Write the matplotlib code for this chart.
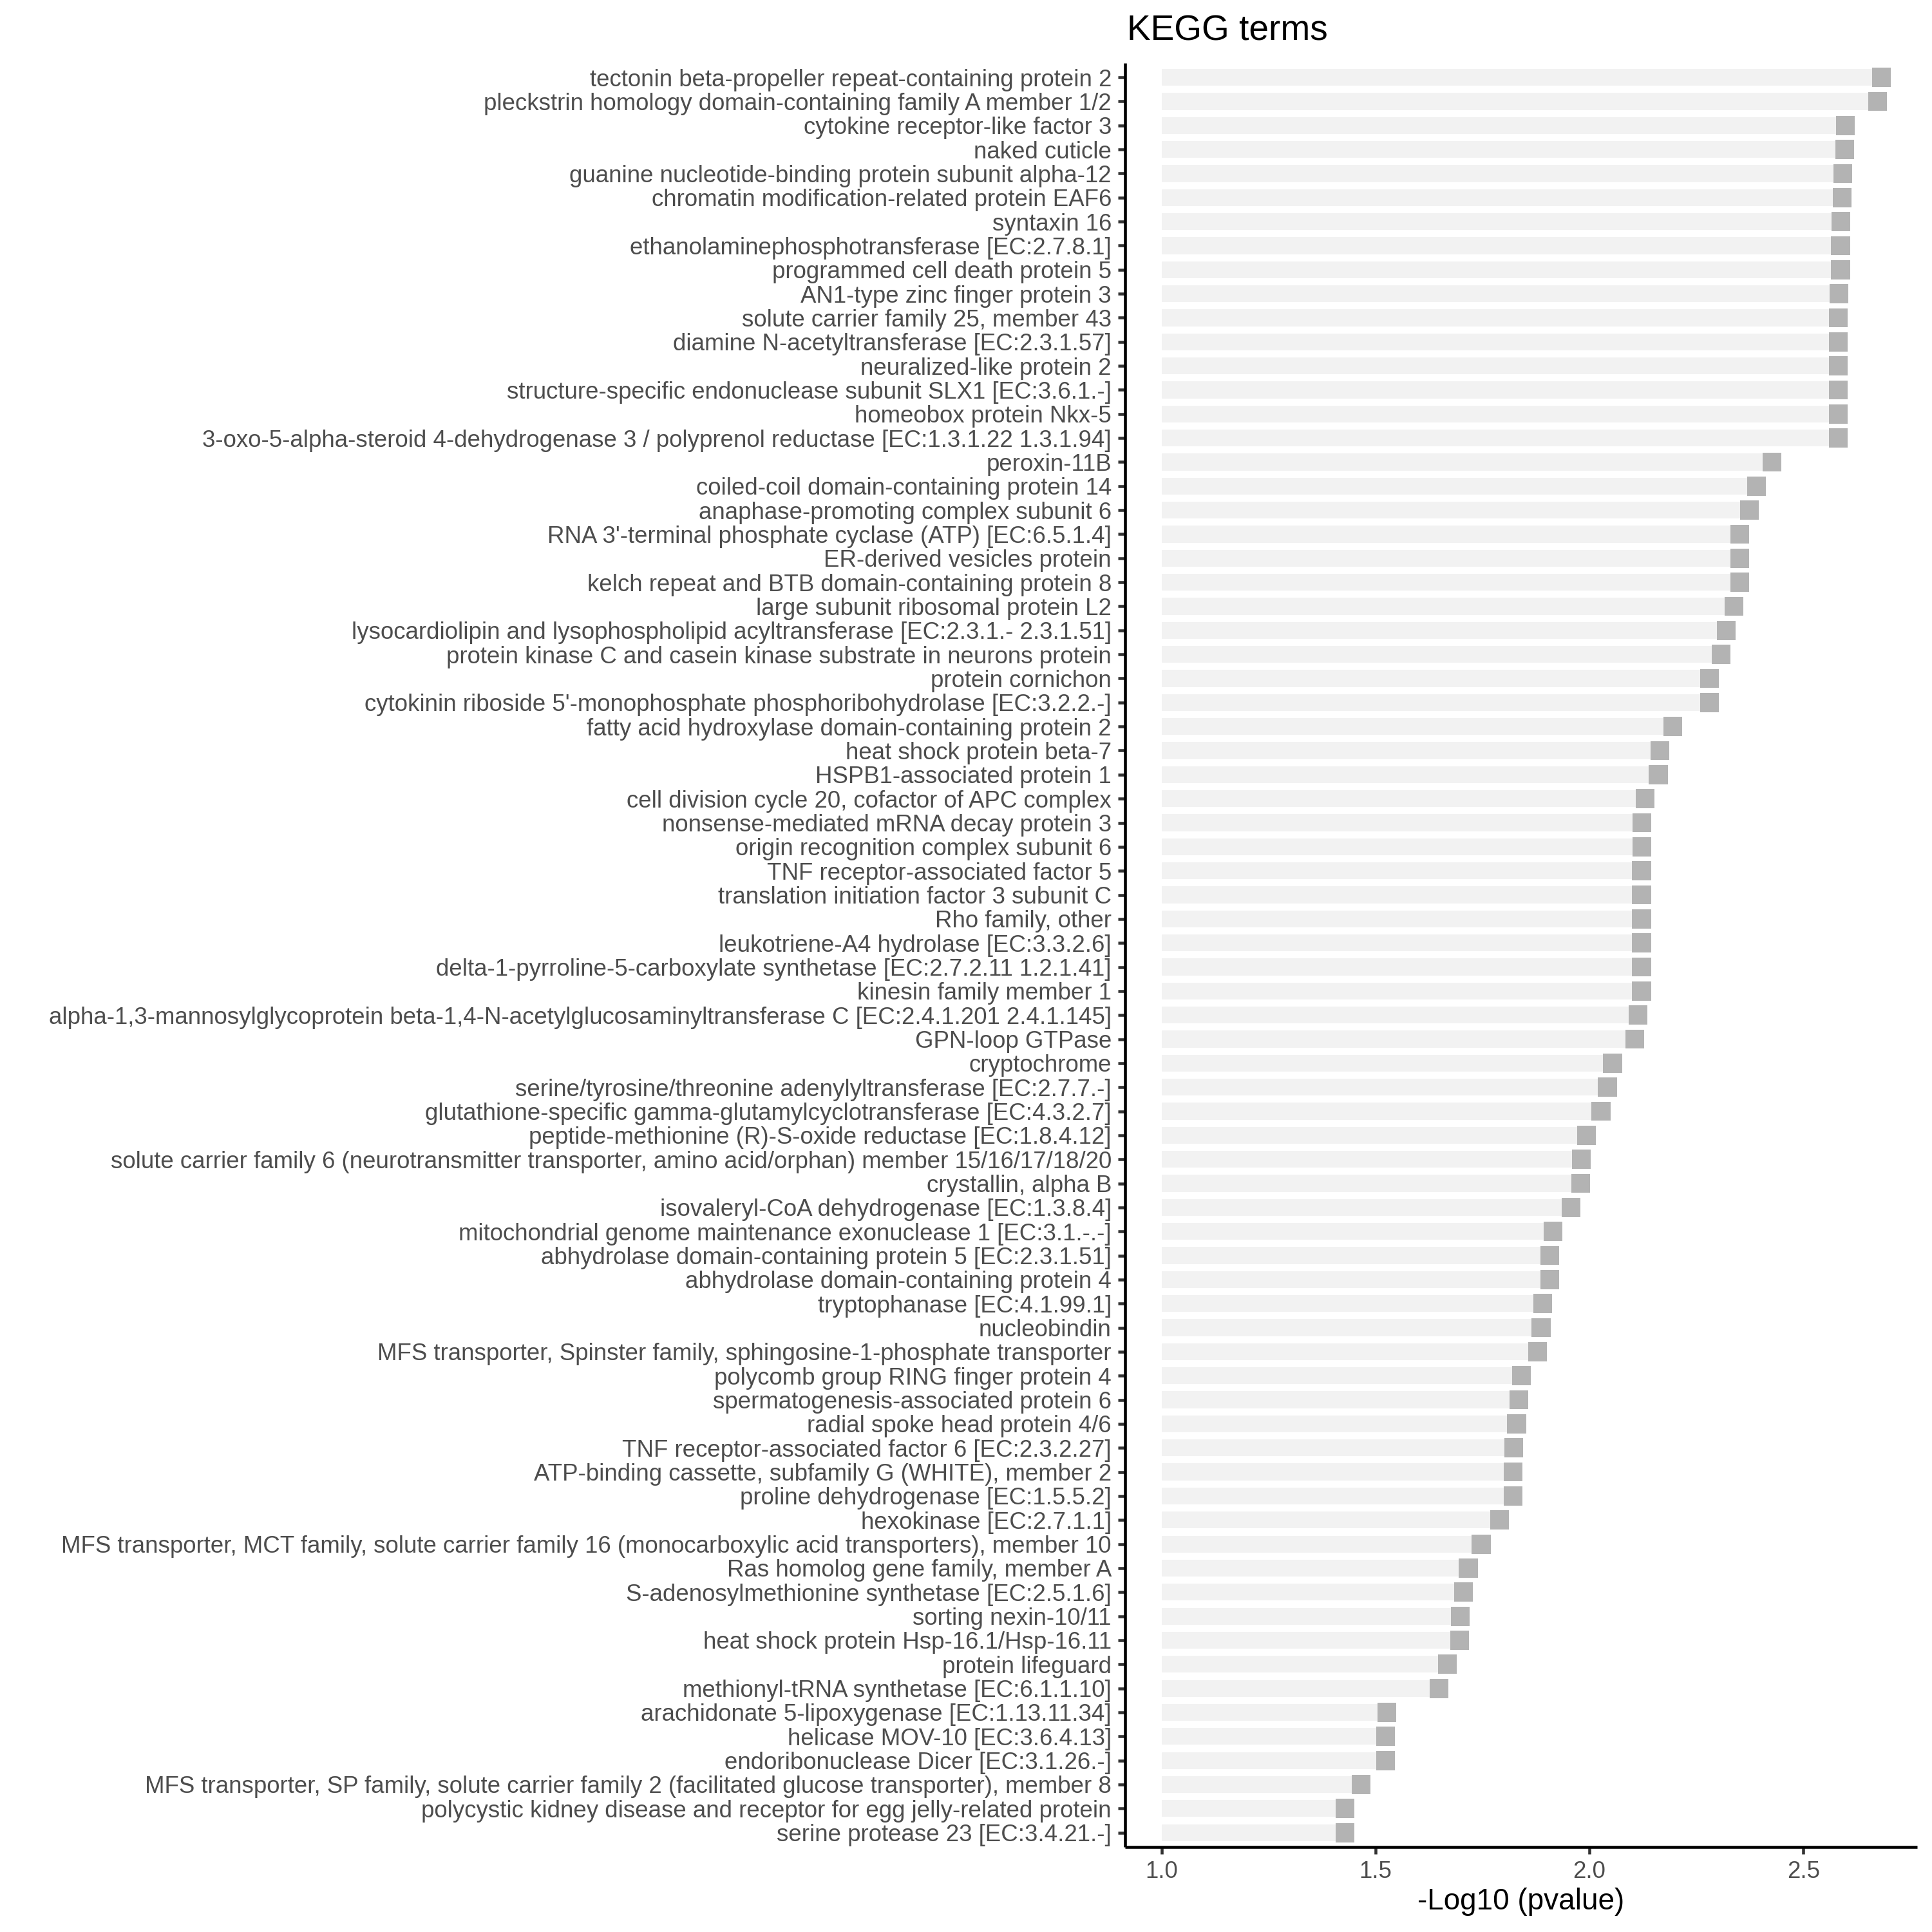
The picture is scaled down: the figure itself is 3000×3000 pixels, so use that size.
import numpy as np
import matplotlib
matplotlib.use("Agg")
import matplotlib.pyplot as plt

plt.rcParams['font.family'] = ['Liberation Sans', 'DejaVu Sans']

terms = [
    "tectonin beta-propeller repeat-containing protein 2",
    "pleckstrin homology domain-containing family A member 1/2",
    "cytokine receptor-like factor 3",
    "naked cuticle",
    "guanine nucleotide-binding protein subunit alpha-12",
    "chromatin modification-related protein EAF6",
    "syntaxin 16",
    "ethanolaminephosphotransferase [EC:2.7.8.1]",
    "programmed cell death protein 5",
    "AN1-type zinc finger protein 3",
    "solute carrier family 25, member 43",
    "diamine N-acetyltransferase [EC:2.3.1.57]",
    "neuralized-like protein 2",
    "structure-specific endonuclease subunit SLX1 [EC:3.6.1.-]",
    "homeobox protein Nkx-5",
    "3-oxo-5-alpha-steroid 4-dehydrogenase 3 / polyprenol reductase [EC:1.3.1.22 1.3.1.94]",
    "peroxin-11B",
    "coiled-coil domain-containing protein 14",
    "anaphase-promoting complex subunit 6",
    "RNA 3'-terminal phosphate cyclase (ATP) [EC:6.5.1.4]",
    "ER-derived vesicles protein",
    "kelch repeat and BTB domain-containing protein 8",
    "large subunit ribosomal protein L2",
    "lysocardiolipin and lysophospholipid acyltransferase [EC:2.3.1.- 2.3.1.51]",
    "protein kinase C and casein kinase substrate in neurons protein",
    "protein cornichon",
    "cytokinin riboside 5'-monophosphate phosphoribohydrolase [EC:3.2.2.-]",
    "fatty acid hydroxylase domain-containing protein 2",
    "heat shock protein beta-7",
    "HSPB1-associated protein 1",
    "cell division cycle 20, cofactor of APC complex",
    "nonsense-mediated mRNA decay protein 3",
    "origin recognition complex subunit 6",
    "TNF receptor-associated factor 5",
    "translation initiation factor 3 subunit C",
    "Rho family, other",
    "leukotriene-A4 hydrolase [EC:3.3.2.6]",
    "delta-1-pyrroline-5-carboxylate synthetase [EC:2.7.2.11 1.2.1.41]",
    "kinesin family member 1",
    "alpha-1,3-mannosylglycoprotein beta-1,4-N-acetylglucosaminyltransferase C [EC:2.4.1.201 2.4.1.145]",
    "GPN-loop GTPase",
    "cryptochrome",
    "serine/tyrosine/threonine adenylyltransferase [EC:2.7.7.-]",
    "glutathione-specific gamma-glutamylcyclotransferase [EC:4.3.2.7]",
    "peptide-methionine (R)-S-oxide reductase [EC:1.8.4.12]",
    "solute carrier family 6 (neurotransmitter transporter, amino acid/orphan) member 15/16/17/18/20",
    "crystallin, alpha B",
    "isovaleryl-CoA dehydrogenase [EC:1.3.8.4]",
    "mitochondrial genome maintenance exonuclease 1 [EC:3.1.-.-]",
    "abhydrolase domain-containing protein 5 [EC:2.3.1.51]",
    "abhydrolase domain-containing protein 4",
    "tryptophanase [EC:4.1.99.1]",
    "nucleobindin",
    "MFS transporter, Spinster family, sphingosine-1-phosphate transporter",
    "polycomb group RING finger protein 4",
    "spermatogenesis-associated protein 6",
    "radial spoke head protein 4/6",
    "TNF receptor-associated factor 6 [EC:2.3.2.27]",
    "ATP-binding cassette, subfamily G (WHITE), member 2",
    "proline dehydrogenase [EC:1.5.5.2]",
    "hexokinase [EC:2.7.1.1]",
    "MFS transporter, MCT family, solute carrier family 16 (monocarboxylic acid transporters), member 10",
    "Ras homolog gene family, member A",
    "S-adenosylmethionine synthetase [EC:2.5.1.6]",
    "sorting nexin-10/11",
    "heat shock protein Hsp-16.1/Hsp-16.11",
    "protein lifeguard",
    "methionyl-tRNA synthetase [EC:6.1.1.10]",
    "arachidonate 5-lipoxygenase [EC:1.13.11.34]",
    "helicase MOV-10 [EC:3.6.4.13]",
    "endoribonuclease Dicer [EC:3.1.26.-]",
    "MFS transporter, SP family, solute carrier family 2 (facilitated glucose transporter), member 8",
    "polycystic kidney disease and receptor for egg jelly-related protein",
    "serine protease 23 [EC:3.4.21.-]",
]

neg_log10_p = [
    2.660, 2.651, 2.576, 2.575, 2.570, 2.569, 2.566, 2.565, 2.565, 2.561,
    2.560, 2.560, 2.560, 2.560, 2.560, 2.560, 2.405, 2.368, 2.352, 2.329,
    2.329, 2.329, 2.316, 2.298, 2.286, 2.259, 2.259, 2.173, 2.143, 2.139,
    2.108, 2.101, 2.101, 2.100, 2.100, 2.100, 2.100, 2.100, 2.100, 2.091,
    2.084, 2.032, 2.020, 2.005, 1.971, 1.959, 1.958, 1.935, 1.893, 1.885,
    1.885, 1.869, 1.865, 1.857, 1.819, 1.813, 1.808, 1.801, 1.800, 1.800,
    1.768, 1.725, 1.695, 1.684, 1.676, 1.675, 1.646, 1.627, 1.505, 1.502,
    1.502, 1.444, 1.407, 1.407,
]

xticks = [1.0, 1.5, 2.0, 2.5]
xtick_labels = ["1.0", "1.5", "2.0", "2.5"]
base = 1.0

W, H = 3000, 3000
fig = plt.figure(figsize=(10, 10), dpi=300)
left_px, right_px, top_px, bottom_px = 1746.5, 2977, 97.7, 2868
ax = fig.add_axes([left_px / W, 1 - bottom_px / H,
                   (right_px - left_px) / W, (bottom_px - top_px) / H])

n = len(terms)
y = np.arange(n)
vals = np.array(neg_log10_p)

ax.barh(y, vals - base, left=base, height=0.7, color='#F2F2F2', linewidth=0, zorder=2)
ax.barh(y, 0.044, left=vals, height=0.8, color='#B3B3B3', linewidth=0, zorder=3)

ax.set_ylim(n - 1 + 0.6, -0.6)
ax.set_xlim(0.914, 2.766)
ax.set_yticks(y)
ax.set_yticklabels(terms)
ax.set_xticks(xticks)
ax.set_xticklabels(xtick_labels)

for s in ['top', 'right']:
    ax.spines[s].set_visible(False)
for s in ['left', 'bottom']:
    ax.spines[s].set_linewidth(1.1)
    ax.spines[s].set_color('black')
    ax.spines[s].set_capstyle('butt')

ax.tick_params(axis='both', which='major', length=2.75, width=1.1, color='#333333',
               labelsize=8.8, labelcolor='#4D4D4D', pad=2.2)

fig.text(1750 / W, 1 - 62.7 / H, "KEGG terms", fontsize=13.2, color='black',
         ha='left', va='baseline')
fig.text((left_px + right_px) / 2 / W, 1 - 2965 / H, "-Log10 (pvalue)", fontsize=11,
         color='black', ha='center', va='baseline')

fig.savefig("out.png", dpi=300, facecolor='white')
